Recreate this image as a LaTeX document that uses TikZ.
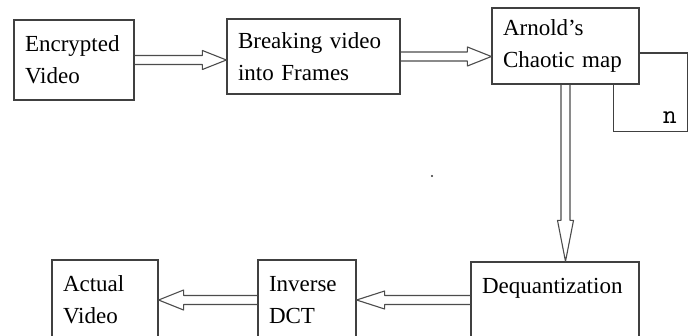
\documentclass[tikz,border=0pt]{standalone}
\usepackage{fontspec}
\setmainfont{Liberation Serif}
\usetikzlibrary{calc}

\newcommand{\shaftw}{4.5pt}
% hollow double-line arrow: #1 start, #2 tip, #3 head length, #4 head half-width
\newcommand{\dblarrow}[4]{%
  \coordinate (hb) at ($(#2)!#3!(#1)$);
  \draw[arr] ($(#1)!\shaftw!90:(#2)$) -- ($(hb)!\shaftw!90:(#2)$)
    -- ($(hb)!#4!90:(#2)$) -- (#2) -- ($(hb)!#4!-90:(#2)$)
    -- ($(hb)!\shaftw!-90:(#2)$) -- ($(#1)!\shaftw!-90:(#2)$);
}

\begin{document}
\begin{tikzpicture}[x=1pt, y=1pt,
  font=\fontsize{23}{32}\selectfont,
  box/.style={draw=black!75, line width=1.2pt, align=left,
              inner xsep=11pt, minimum height=80pt},
  arr/.style={draw=black!70, line width=1.1pt, line join=round},
  line/.style={draw=black!75, line width=1.2pt},
  tag/.style={font=\fontsize{27}{27}\ttfamily, inner sep=0pt},
]
\useasboundingbox (0,0) rectangle (693,335);
\clip (0,0) rectangle (693,335);

%% top row
\node[box, text width=98pt] (enc) at (74,275) {Encrypted\\Video};
\node[box, text width=151pt, minimum height=75pt] (brk) at (313.5,278.5)
  {Breaking video\\into Frames};
\node[box, text width=125pt, minimum height=76pt] (arn) at (565.5,289)
  {Arnold’s\\Chaotic map};

%% bottom row (boxes run off the lower edge)
\node[box, text width=84pt] (act) at (105,35) {Actual\\Video};
\node[box, text width=76pt] (idct) at (307,35) {Inverse\\DCT};
\node[box, text width=146pt] (deq) at (555,33) {Dequantization\\\mbox{}};

%% iteration loop on the chaotic map
\coordinate (loopout) at ($(arn.north east)!0.59!(arn.south east)$);
\coordinate (loopin) at ($(arn.south west)!0.823!(arn.south east)$);
\draw[line] (loopout) -- ++(48,0) |- ($(loopin)+(0,-47)$) -- (loopin);
\node[tag] (iter) at ($(loopin)+(56.5,-33)$) {n};

%% hollow arrows
\coordinate (a1s) at (enc.east);
\coordinate (a1t) at (enc.east -| brk.west);
\dblarrow{a1s}{a1t}{24pt}{9.5pt}
\coordinate (a2s) at (brk.east);
\coordinate (a2t) at (brk.east -| arn.west);
\dblarrow{a2s}{a2t}{24pt}{9.5pt}
\coordinate (a3s) at (arn.south);
\coordinate (a3t) at (arn.south |- deq.north);
\dblarrow{a3s}{a3t}{41pt}{8pt}
\coordinate (a4s) at (idct.east -| deq.west);
\coordinate (a4t) at (idct.east);
\dblarrow{a4s}{a4t}{28pt}{9pt}
\coordinate (a5s) at (idct.west);
\coordinate (a5t) at (idct.west -| act.east);
\dblarrow{a5s}{a5t}{25pt}{10pt}

%% stray dot
\fill[black!80] (432,159) circle (1.1);
\end{tikzpicture}
\end{document}
